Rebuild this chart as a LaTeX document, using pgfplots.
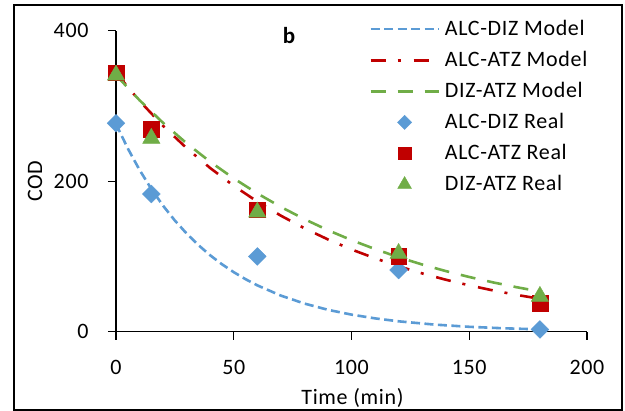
\documentclass[border=0pt]{standalone}
\usepackage{pgfplots}
\pgfplotsset{compat=1.18}
\usepackage{fontspec}
\setmainfont{Carlito}[LetterSpace=3]
\definecolor{cblue}{HTML}{5B9BD5}
\definecolor{cred}{HTML}{C00000}
\definecolor{cgreen}{HTML}{70AD47}
\begin{document}
\fontsize{22bp}{26bp}\selectfont
\begin{tikzpicture}
\path (0,0) rectangle (625bp,411bp);
\draw[line width=1.5bp] (14bp,1bp) rectangle (622bp,406bp);
\begin{axis}[
  at={(116bp,79.3bp)}, anchor=south west,
  scale only axis, width=471bp, height=301bp,
  xmin=0, xmax=200, ymin=0, ymax=400,
  xtick={0,50,100,150,200}, ytick={0,200,400},
  axis x line*=bottom, axis y line*=left,
  axis line style={-, line width=1.3bp},
  tick style={line width=1.3bp, black},
  major tick length=8bp, tick align=outside,
  /pgf/number format/assume math mode=true,
  xticklabel style={yshift=-13bp},
  yticklabel style={xshift=-12bp},
  clip=false,
  xlabel={Time (min)}, ylabel={COD},
  xlabel style={at={(axis description cs:0.502,-0.22)}, anchor=center, inner sep=1bp},
  ylabel style={at={(axis description cs:-0.172,0.5)}, anchor=center},
  legend image code/.code={\draw[mark repeat=2,mark phase=2,#1] plot coordinates {(0bp,0bp) (34bp,0bp) (68bp,0bp)};},
  legend image post style={every mark/.append style={scale=0.8}},
  legend cell align=left,
  legend style={draw=none, fill=none, at={(axis description cs:0.531,1.05)}, anchor=north west,
    row sep=8.5bp, nodes={inner sep=2bp}, column sep=3bp},
]
\addplot[cblue, line width=2.6bp, dash pattern=on 9bp off 4.5bp] coordinates {
(0,276) (5,243.6) (10,215.0) (15,189.7) (20,167.4) (25,147.7) (30,130.4) (35,115.1) (40,101.5) (45,89.6) (50,79.1) (55,69.8) (60,61.6) (70,48.0) (80,37.4) (90,29.1) (100,22.7) (110,17.7) (120,13.8) (135,9.5) (150,6.5) (165,4.5) (180,3.1)};
\addlegendentry{ALC-DIZ Model}
\addplot[cred, line width=2.6bp, dash pattern=on 15bp off 12bp on 3bp off 13bp] coordinates {
(0,344) (10,306.7) (20,273.5) (30,243.9) (40,217.5) (50,193.9) (60,172.9) (70,154.2) (80,137.5) (90,122.6) (100,109.3) (110,97.5) (120,86.9) (130,77.5) (140,69.1) (150,61.6) (160,54.9) (170,49.0) (180,43.7)};
\addlegendentry{ALC-ATZ Model}
\addplot[cgreen, line width=2.6bp, dash pattern=on 15bp off 12bp] coordinates {
(0,341) (10,307.6) (20,277.5) (30,250.3) (40,225.8) (50,203.7) (60,183.8) (70,165.8) (80,149.6) (90,134.9) (100,121.7) (110,109.8) (120,99.0) (130,89.3) (140,80.6) (150,72.7) (160,65.6) (170,59.2) (180,53.4)};
\addlegendentry{DIZ-ATZ Model}
\addplot[only marks, mark=square*, mark size=6.3bp, mark options={rotate=45, fill=cblue, draw=cblue}] coordinates {
(0,277) (15,183) (60,100) (120,82) (180,3)};
\addlegendentry{ALC-DIZ Real}
\addplot[only marks, mark=square*, mark size=7.8bp, mark options={fill=cred, draw=cred}] coordinates {
(0,344) (15,269) (60,162) (120,100) (180,38)};
\addlegendentry{ALC-ATZ Real}
\addplot[only marks, mark=triangle*, mark size=10bp, mark options={fill=cgreen, draw=cgreen}] coordinates {
(0,341) (15,257) (60,159) (120,104) (180,47)};
\addlegendentry{DIZ-ATZ Real}
\node[font=\bfseries\fontsize{23bp}{26bp}\selectfont] at (axis cs:73.5,393) {b};
\end{axis}
\end{tikzpicture}
\end{document}
